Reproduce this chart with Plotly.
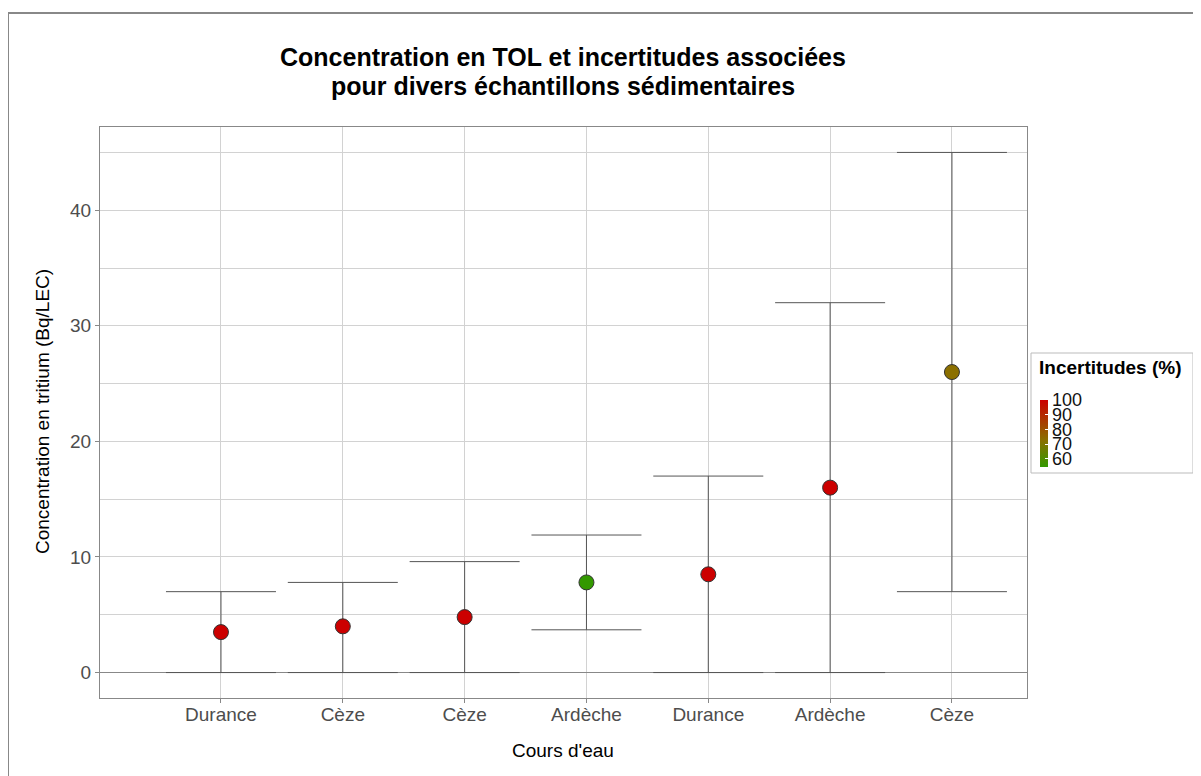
import plotly.graph_objects as go

# ---- data ----
rivers = ["Durance", "Cèze", "Cèze", "Ardèche", "Durance", "Ardèche", "Cèze"]
concentration = [3.5, 4.0, 4.8, 7.8, 8.5, 16.0, 26.0]
upper = [7.0, 7.8, 9.6, 11.9, 17.0, 32.0, 45.0]
lower = [0.0, 0.0, 0.0, 3.7, 0.0, 0.0, 7.0]
uncertainty = [100, 100, 100, 54.5, 100, 100, 73]
cbar_ticks = [60, 70, 80, 90, 100]
y_ticks = [0, 10, 20, 30, 40]
title_lines = ["Concentration en TOL et incertitudes associées",
               "pour divers échantillons sédimentaires"]

idx = list(range(len(rivers)))
err_plus = [u - c for u, c in zip(upper, concentration)]
err_minus = [c - l for c, l in zip(concentration, lower)]

OFF = 8  # page body offset
W, H = 1201, 776
L, R, T, B = 100 - OFF, 1027 - OFF, 127 - OFF, 698 - OFF
pw, ph = R - L, B - T


def px(x):
    return (x - OFF - L) / pw


def py(y):
    return (B - (y - OFF)) / ph


colorscale = [[0, "#339900"], [0.4, "#8a7000"], [1, "#cc0000"]]
FONT = "Liberation Sans, Arial"

fig = go.Figure()
fig.add_trace(go.Scatter(
    x=idx, y=concentration, mode="markers",
    error_y=dict(type="data", symmetric=False, array=err_plus, arrayminus=err_minus,
                 color="#555555", thickness=1, width=55),
    marker=dict(size=15, color=uncertainty, colorscale=colorscale,
                cmin=min(uncertainty), cmax=max(uncertainty),
                line=dict(color="#333333", width=1),
                colorbar=dict(
                    x=px(1040), xanchor="left", xpad=0,
                    y=py(433.5), yanchor="middle", ypad=0,
                    len=67, lenmode="pixels", thickness=8, thicknessmode="pixels",
                    outlinewidth=0, tickvals=cbar_ticks, ticks="inside",
                    tickcolor="white", ticklen=3,
                    tickfont=dict(family=FONT, size=18, color="#111111"),
                )),
    showlegend=False, hoverinfo="x+y",
))

fig.update_layout(
    width=W, height=H,
    margin=dict(l=L, r=W - R, t=T, b=H - B),
    paper_bgcolor="white", plot_bgcolor="white",
    font=dict(family=FONT, color="#4d4d4d"),
    xaxis=dict(range=[-0.993, 6.616], tickvals=idx, ticktext=rivers,
               showgrid=True, gridcolor="#d2d2d2", gridwidth=1,
               ticks="outside", ticklen=4, tickcolor="#888888",
               tickfont=dict(size=19, color="#4d4d4d"), ticklabelstandoff=-5,
               showline=True, linecolor="#888888", linewidth=1, mirror=True,
               zeroline=False),
    yaxis=dict(range=[-2.2, 47.2], tickvals=y_ticks,
               showgrid=True, gridcolor="#d2d2d2", gridwidth=1,
               minor=dict(dtick=5, tick0=0, showgrid=True, gridcolor="#d2d2d2", gridwidth=1),
               ticks="outside", ticklen=4, tickcolor="#888888",
               tickfont=dict(size=19, color="#4d4d4d"),
               showline=True, linecolor="#888888", linewidth=1, mirror=True,
               zeroline=True, zerolinecolor="#888888", zerolinewidth=1),
)

for line, yy in zip(title_lines, [57, 86]):
    fig.add_annotation(text="<b>" + line + "</b>", xref="paper", yref="paper",
                       x=px(563), y=py(yy), showarrow=False,
                       xanchor="center", yanchor="middle",
                       font=dict(size=25, color="black"))

fig.add_annotation(text="Concentration en tritium (Bq/LEC)", xref="paper", yref="paper",
                   x=px(42), y=py(412), textangle=-90, showarrow=False,
                   xanchor="center", yanchor="middle",
                   font=dict(size=19, color="black"))
fig.add_annotation(text="Cours d'eau", xref="paper", yref="paper",
                   x=px(563), y=py(750), showarrow=False,
                   xanchor="center", yanchor="middle",
                   font=dict(size=19, color="black"))
fig.add_annotation(text="<b>Incertitudes (%)</b>", xref="paper", yref="paper",
                   x=px(1037), y=py(367), showarrow=False,
                   xanchor="left", yanchor="middle",
                   font=dict(size=19, color="black"))

# legend box
fig.add_shape(type="rect", xref="paper", yref="paper",
              x0=px(1031), x1=px(1193), y0=py(473), y1=py(353),
              line=dict(color="#bbbbbb", width=1))
# outer frame
fig.add_shape(type="rect", xref="paper", yref="paper",
              x0=px(8), x1=px(1215), y0=py(790), y1=py(13),
              line=dict(color="#888888", width=2))

fig.write_html("out.html")
